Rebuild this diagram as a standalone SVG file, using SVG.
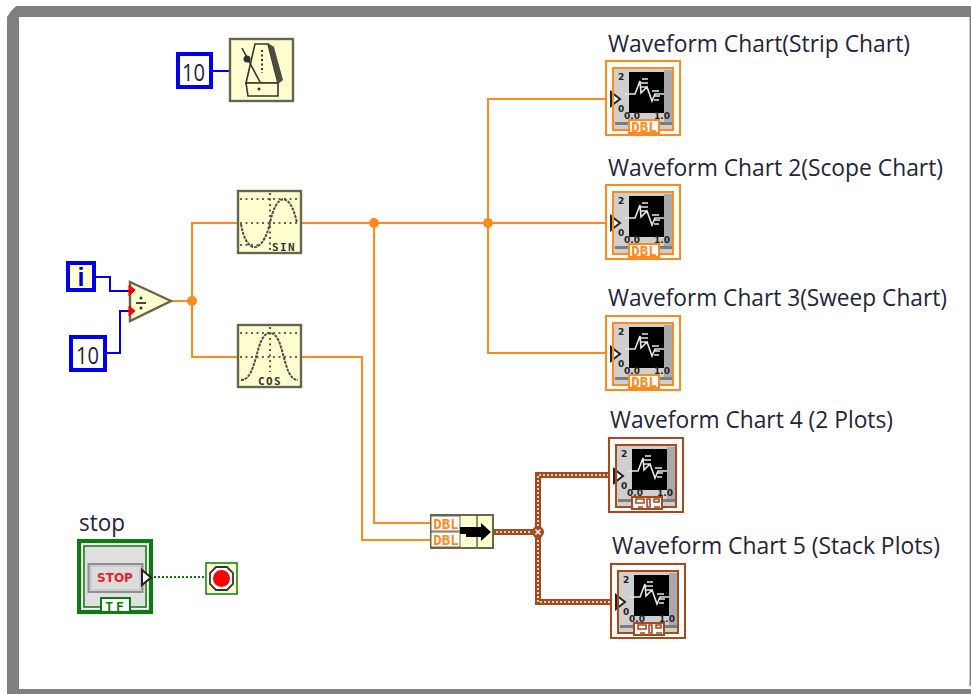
<svg xmlns="http://www.w3.org/2000/svg" width="971" height="694" viewBox="0 0 971 694">
<style>
text{font-family:"Open Sans","Noto Sans","Liberation Sans",sans-serif;fill:#24243a}
.lbl{font-size:22.800px}
.w{fill:none;stroke:#ff8a1c;stroke-width:2}
.b{fill:none;stroke:#0000ee;stroke-width:2}
.box{fill:#ffffd0;stroke:#66664f;stroke-width:2.400}
.dark{fill:none;stroke:#333;stroke-width:1.600;stroke-dasharray:2 3.500}
.curve{fill:none;stroke:#4d4d4d;stroke-width:2;stroke-dasharray:3 1}
.thick{fill:none;stroke:#a8481c;stroke-width:6}
.thickin{fill:none;stroke:#f5d9c5;stroke-width:2;stroke-dasharray:2 2}
.dbl{font:700 14px "DejaVu Sans Mono","Liberation Mono",monospace;fill:#ff8a1c}
.k{fill:#fff;stroke:#0000ee;stroke-width:4}
.num{font-size:24px}
.tick{font:700 9px "DejaVu Sans";fill:#222}
</style>
<defs>
<g id="chartbody">
<rect x="9" y="9" width="58" height="60" fill="#cfcfcf"/>
<rect x="59" y="10" width="8" height="54" fill="#a9a9a9"/>
<rect x="10" y="62" width="57" height="3" fill="#7d7d7d"/>
<rect x="24" y="12" width="35" height="41" fill="#000"/>
<path d="M20 34H30L35 21L36 33L42 27L47 41L50 34H59M36 23H43M37 19H43M36 27H42M47 31H54M49 36H55M49 40H54" fill="none" stroke="#e6e6e6" stroke-width="1.600"/>
<text x="13" y="20" class="tick">2</text>
<text x="13" y="52" class="tick">0</text>
<text x="19" y="59" class="tick">0.0</text>
<text x="49" y="59" class="tick">1.0</text>
<path d="M6 32L15 39L6 46Z" fill="#fff" stroke="#222" stroke-width="2"/>
</g>
<g id="chartO">
<rect x="1" y="1" width="74" height="74" fill="#fff" stroke="#ff8a1c" stroke-width="2"/>
<use href="#chartbody"/>
<rect x="8" y="8" width="60" height="62" fill="none" stroke="#ff8a1c" stroke-width="2"/>
<rect x="24" y="60" width="30" height="13" fill="#fff" stroke="#ff8a1c" stroke-width="2"/>
<text x="39" y="72" text-anchor="middle" class="dbl">DBL</text>
</g>
<g id="chartB">
<rect x="1" y="1" width="74" height="74" fill="#fff" stroke="#a8481c" stroke-width="2"/>
<use href="#chartbody"/>
<rect x="8" y="8" width="60" height="62" fill="none" stroke="#a8481c" stroke-width="2"/>
<rect x="24" y="60" width="30" height="12" fill="#fff" stroke="#a8481c" stroke-width="2"/>
<path d="M28 62h8v4h-8zM30 70h5M39 62v8h3v-8zM46 62h5v3h-5zM46 70h6" fill="none" stroke="#a8481c" stroke-width="1.600"/>
</g>
</defs>
<rect x="0" y="0" width="971" height="694" fill="#fff"/>
<path d="M7 694V17L11 11L16 6H971V17H19V689H971V694Z" fill="#808080"/>
<rect x="969.500" y="17" width="1.500" height="669" fill="#808080"/>

<g id="connectors">
<path class="b" d="M213 71H230"/>
<path class="b" d="M96 277H110V291H130"/>
<path class="b" d="M107 353H120V311H130"/>
<path class="w" d="M171 301H192M192 301V223H238M192 301V357H238"/>
<path class="w" d="M301 223H610M488 223V99H610M488 223V353H610M374 223V523H431"/>
<path class="w" d="M301 357H362V540H431"/>
<circle cx="192" cy="301" r="5" fill="#ff8a1c"/>
<circle cx="374" cy="223" r="5" fill="#ff8a1c"/>
<circle cx="488" cy="223" r="5" fill="#ff8a1c"/>
<path class="thick" d="M492 532H538M613 475H538V602H615"/>
<path class="thickin" d="M492 532H538M613 475H538V602H615"/>
<circle cx="538" cy="532" r="6" fill="#a8481c"/>
<path d="M535.500 529.500l5 5M540.500 529.500l-5 5" stroke="#fff" stroke-width="1.500"/>
<path d="M150 577H206" fill="none" stroke="#0a7d0a" stroke-width="2" stroke-dasharray="2 2"/>
</g>

<g id="const-10-top">
<rect class="k" x="178" y="54" width="33" height="33"/>
<text class="num" x="182" y="81" textLength="23" lengthAdjust="spacingAndGlyphs">10</text>
</g>
<g id="wait">
<rect class="box" x="230" y="39" width="63" height="62"/>
<path d="M255 44H268L278 83H246Z" fill="#ffffd0" stroke="#333" stroke-width="1.600"/>
<path d="M268 43L274 47L283 80L278 84Z" fill="#4d4d3c"/>
<path d="M242 48L260 82" stroke="#333" stroke-width="1.600"/>
<circle cx="247" cy="59" r="3.500" fill="#333"/>
<path d="M246 83H278V96H248Z" fill="#ffffd0" stroke="#333" stroke-width="1.600"/>
<path d="M262 50V73" stroke="#333" stroke-width="2" stroke-dasharray="2 2.500"/>
<circle cx="259" cy="89" r="1.500" fill="#333"/>
</g>

<g id="iter">
<rect x="68" y="263" width="26" height="27" fill="#ffffd0" stroke="#0000ee" stroke-width="4"/>
<text x="81" y="286" text-anchor="middle" style="font:700 25px 'Liberation Sans';fill:#0000c8">i</text>
</g>
<g id="const-10-left">
<rect class="k" x="71" y="337" width="34" height="33"/>
<text class="num" x="76" y="364" textLength="23" lengthAdjust="spacingAndGlyphs">10</text>
</g>
<g id="divide">
<path d="M130 282L171 301L130 321Z" fill="#ffffd0" stroke="#66664f" stroke-width="2.400"/>
<path d="M129 285L135 290L129 296ZM129 306L135 311L129 316Z" fill="#f00" stroke="#f00"/>
<path d="M136 303H146" stroke="#333" stroke-width="1.800"/>
<circle cx="141" cy="298" r="1.500" fill="#333"/><circle cx="141" cy="308" r="1.500" fill="#333"/>
</g>
<g id="sin">
<rect class="box" x="238" y="191" width="63" height="62"/>
<path class="dark" d="M240 199H299M240 223H299M270 193V251M240 245H262"/>
<path class="curve" d="M241 224C246 254 262 256 270 223C276 193 290 190 297 223"/>
<text x="272" y="251" style="font:700 11px 'DejaVu Sans Mono';fill:#333;letter-spacing:1.400px">SIN</text>
</g>
<g id="cos">
<rect class="box" x="238" y="325" width="63" height="62"/>
<path class="dark" d="M240 333H299M240 357H299M270 327V372"/>
<path class="curve" d="M241 380C258 380 255 333 270 333C285 333 282 380 298 380"/>
<text x="270" y="385" text-anchor="middle" style="font:700 11px 'DejaVu Sans Mono';fill:#333;letter-spacing:1.400px">COS</text>
</g>
<g id="build-array">
<rect x="431" y="515" width="62" height="33" fill="#ffffd0" stroke="#66664f" stroke-width="2"/>
<rect x="431" y="516" width="29" height="15" fill="#fff" stroke="#66664f"/>
<rect x="431" y="532" width="29" height="15" fill="#fff" stroke="#66664f"/>
<text x="446" y="529" text-anchor="middle" class="dbl">DBL</text>
<text x="446" y="545" text-anchor="middle" class="dbl">DBL</text>
<path d="M477 516V547" stroke="#66664f" stroke-width="1.500"/>
<path d="M460 527H481V523L491 532L481 541V537H466V534H460Z" fill="#000"/>
</g>

<g id="chart1" transform="translate(605,60)"><use href="#chartO"/></g>
<g id="chart2" transform="translate(605,184)"><use href="#chartO"/></g>
<g id="chart3" transform="translate(605,315)"><use href="#chartO"/></g>
<g id="chart4" transform="translate(608,437)"><use href="#chartB"/></g>
<g id="chart5" transform="translate(610,563)"><use href="#chartB"/></g>

<text class="lbl" x="608" y="52" textLength="302" lengthAdjust="spacingAndGlyphs">Waveform Chart(Strip Chart)</text>
<text class="lbl" x="608" y="176" textLength="335" lengthAdjust="spacingAndGlyphs">Waveform Chart 2(Scope Chart)</text>
<text class="lbl" x="608" y="306" textLength="339" lengthAdjust="spacingAndGlyphs">Waveform Chart 3(Sweep Chart)</text>
<text class="lbl" x="610" y="428" textLength="283" lengthAdjust="spacingAndGlyphs">Waveform Chart 4 (2 Plots)</text>
<text class="lbl" x="612" y="554" textLength="328" lengthAdjust="spacingAndGlyphs">Waveform Chart 5 (Stack Plots)</text>

<g id="stop-control">
<text class="lbl" x="79" y="531" textLength="46" lengthAdjust="spacingAndGlyphs">stop</text>
<rect x="79" y="541" width="72" height="71" fill="#e0e0e0" stroke="#0a7d0a" stroke-width="4"/>
<rect x="82.500" y="544.500" width="65" height="64" fill="none" stroke="#fff" stroke-width="1"/>
<rect x="84" y="546" width="62" height="61" fill="none" stroke="#0a7d0a" stroke-width="1.500"/>
<rect x="88.500" y="564" width="54" height="28" fill="#cbcbcb" stroke="#8f8f8f" stroke-width="2"/>
<rect x="92" y="567" width="47" height="22" fill="#dcdcdc"/>
<text x="115" y="582" text-anchor="middle" style="font:700 12px 'DejaVu Sans';fill:#e8202a">STOP</text>
<path d="M142 570L151 577.500L142 585Z" fill="#fff" stroke="#222" stroke-width="2"/>
<rect x="101" y="598" width="29" height="14" fill="#fff" stroke="#0a7d0a" stroke-width="2"/>
<text x="116" y="611" text-anchor="middle" style="font:700 13px 'DejaVu Sans Mono';fill:#0a7d0a;letter-spacing:3px">TF</text>
</g>
<g id="stop-terminal">
<rect x="206" y="563" width="31" height="31" fill="#ffffd0" stroke="#0a7d0a" stroke-width="1.500"/>
<path d="M216 567H227L233 573V584L227 590H216L210 584V573Z" fill="#fff" stroke="#333" stroke-width="1.800"/>
<circle cx="221.500" cy="578.500" r="8.500" fill="#f00"/>
</g>
</svg>
